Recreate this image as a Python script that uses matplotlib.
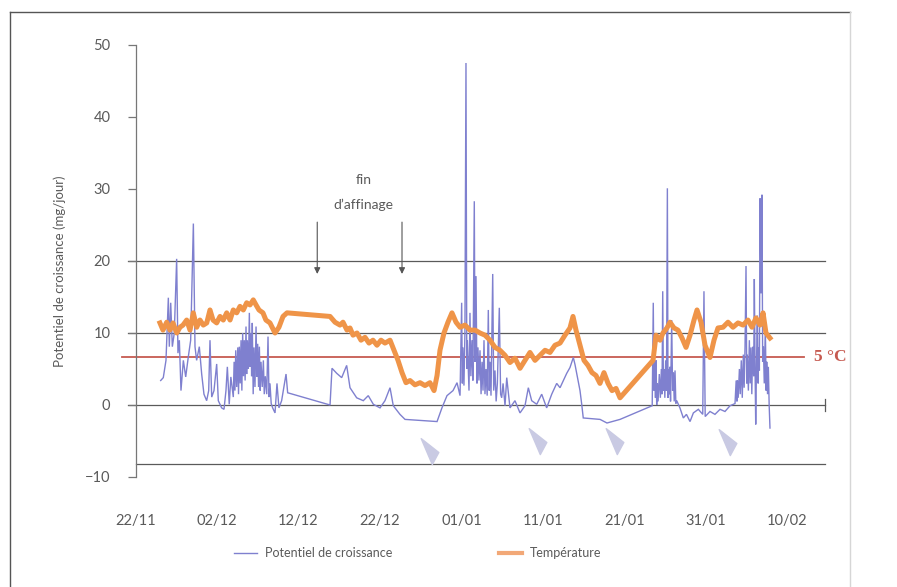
import matplotlib
matplotlib.use("Agg")
import matplotlib.pyplot as plt
from matplotlib.lines import Line2D
from matplotlib.path import Path

# Days counted from 22/11
tick_days = [0, 10, 20, 30, 40, 50, 60, 70, 80]
tick_labels = ["22/11", "02/12", "12/12", "22/12", "01/01", "11/01", "21/01", "31/01", "10/02"]
y_ticks = [-10, 0, 10, 20, 30, 40, 50]
grid_levels = [20, 10, 0]
axis_level = -8.2
threshold_level = 6.6  # 5 °C on the growth-potential scale

# Growth potential (mg/jour)
pot_days = [
    # late November
    3.09, 3.41, 3.74, 4.03, 4.15, 4.32, 4.52, 4.76, 5.05, 5.21, 5.38, 5.58, 5.87, 6.16,
    6.48, 6.77, 7.1, 7.3, 7.5, 7.83, 8.12, 8.4,
    8.73, 8.98, 9.14, 9.35, 9.63, 9.96, 10.16, 10.57, 10.86, 11.1, 11.27, 11.5, 11.7, 12.0,
    # early December
    12.1, 12.2, 12.3, 12.42, 12.55, 12.64, 12.74, 12.85, 12.95, 13.05,
    13.15, 13.25, 13.35, 13.45, 13.56, 13.64, 13.72, 13.85, 13.97, 14.07,
    14.17, 14.25, 14.33, 14.44, 14.54, 14.66, 14.79, 14.9, 14.99, 15.1,
    15.2, 15.3, 15.4, 15.55, 15.69, 15.8, 15.93, 16.1, 16.26, 16.38,
    16.5, 16.65, 16.83,
    # mid to late December
    17.12, 17.36, 17.6, 17.93, 18.47, 18.67, 23.87, 24.11, 24.69, 25.3,
    25.91, 26.32, 27.14, 27.95, 28.56, 29.18, 30.0, 30.61, 31.23, 31.63,
    32.45, 33.07, 37.0, 37.6, 38.22, 38.96, 39.45, 39.82,
    # New Year
    40.02, 40.1, 40.18, 40.3, 40.42, 40.55, 40.65, 40.72, 40.8, 40.92,
    41.04, 41.15, 41.29, 41.4, 41.57, 41.66, 41.78, 41.9, 42.02, 42.14,
    42.27, 42.4, 42.52, 42.64, 42.76, 42.88, 43.01, 43.15, 43.29, 43.4,
    43.5, 43.62, 43.83, 43.95, 44.11, 44.25, 44.4, 44.64, 44.8, 44.93,
    45.1, 45.34,
    # January
    45.55, 45.95, 46.56, 47.18, 47.79, 48.2, 48.61, 49.23, 49.84, 50.45,
    51.07, 51.68, 52.09, 52.5, 52.91, 53.31, 53.72, 53.93, 54.13, 54.54,
    54.75, 54.94, 57.0, 57.85, 59.45, 63.4,
    63.53, 63.62, 63.7, 63.8, 63.87, 63.95, 64.03, 64.12, 64.27, 64.4,
    64.52, 64.6, 64.69, 64.78, 64.85, 64.95, 65.05, 65.15, 65.26, 65.34,
    65.42, 65.5, 65.56, 65.65, 65.79, 65.9, 66.0, 66.1, 66.2, 66.3,
    66.41,
    66.8, 67.22, 67.6, 68.04, 68.45, 69.06, 69.6, 69.75, 69.9, 70.49,
    71.1, 71.72, 72.33, 72.95, 73.56,
    # end of January
    73.7, 73.8, 73.85, 73.95, 74.1, 74.2, 74.33, 74.45, 74.58, 74.68,
    74.79, 74.91, 75.0, 75.07, 75.2, 75.32, 75.42, 75.52, 75.62, 75.73,
    75.85, 75.93, 76.02, 76.1, 76.2, 76.3, 76.4, 76.46, 76.55, 76.63,
    76.75, 76.87, 76.95, 77.04, 77.15, 77.28, 77.38, 77.45, 77.55, 77.65,
    77.75, 77.85,
]
pot_values = [
    3.4, 3.8, 6.2, 14.9, 8.1, 14.2, 8.1, 10.0, 20.3, 7.2, 9.0, 2.0, 6.2, 3.9,
    6.7, 9.0, 25.2, 8.1, 6.2, 8.1, 4.3, 1.5,
    0.6, 2.0, 9.0, 1.1, 2.0, 5.7, 0.6, -0.4, -0.6, 2.0, 5.3, 0.1, 3.9, 1.1,
    6.0, 2.0, 7.6, 2.5, 8.0, 1.5, 8.1, 3.0, 9.0, 2.0,
    10.0, 4.0, 9.0, 3.4, 10.9, 4.3, 9.0, 5.0, 12.8, 5.3,
    10.0, 4.0, 11.4, 1.5, 8.0, 2.5, 10.9, 3.9, 8.5, 2.5,
    8.1, 2.0, 6.0, 2.5, 6.2, 1.5, 4.0, 1.5, 9.5, 1.1,
    3.0, 0.2, -0.4,
    -1.1, 3.0, -0.4, 0.6, 4.3, 1.7, 0.0, 5.1, 4.4, 3.8,
    5.5, 2.4, 1.0, 0.6, 1.3, 0.1, -0.4, 0.6, 2.4, -0.1,
    -1.3, -2.0, -2.3, -0.4, 1.3, 2.0, 3.1, 1.3,
    14.2, 3.0, 8.0, 2.7, 10.0, 47.5, 5.0, 9.0, 6.2, 2.0,
    12.8, 4.0, 9.0, 3.4, 28.3, 6.0, 17.9, 3.0, 8.0, 3.4,
    7.6, 1.5, 6.0, 2.0, 9.0, 1.5, 5.0, 1.3, 13.2, 2.0,
    6.0, 1.3, 18.2, 2.0, 4.8, 0.5, 3.0, 13.5, 1.5, 1.0,
    3.0, -0.1,
    3.8, -0.4, 0.6, -1.1, -0.1, 2.4, 0.6, 0.1, 1.5, -0.4,
    1.5, 3.0, 2.4, 3.4, 4.4, 5.2, 6.6, 5.6, 4.4, 2.0,
    0.1, -1.8, -2.0, -2.5, -2.0, -0.1,
    14.2, 2.0, 6.0, 1.0, 6.2, 0.0, 3.0, 0.5, 4.3, 1.0,
    5.0, 1.5, 15.8, 2.0, 5.0, 1.0, 6.2, 2.0, 30.1, 1.0,
    5.0, 1.5, 5.3, 0.5, 11.8, 2.0, 4.5, 0.5, 4.8, 0.2,
    0.6,
    -0.4, -1.8, -1.3, -2.3, -1.1, -0.6, -1.3, 15.8, -1.6, -0.9,
    -1.3, -0.6, -0.9, -0.1, 0.2,
    3.4, 0.5, 3.4, 1.0, 5.0, 1.5, 6.2, 1.0, 7.0, 2.4,
    8.1, 19.3, 3.0, 7.0, 2.0, 9.0, 3.0, 8.0, 1.5, 8.1,
    4.0, 17.5, 5.0, -2.7, 6.0, 12.4, 3.0, 8.0, 4.8, 28.7,
    15.5, 29.2, 6.0, 8.1, 3.0, 10.9, 2.0, 6.0, 1.5, 5.3,
    0.0, -3.2,
]
assert len(pot_days) == len(pot_values)

# Temperature, drawn on the same scale
temp_days = [3.0, 3.37, 3.83, 4.23, 4.6, 5.06, 5.46, 5.83, 6.28, 6.69, 7.09, 7.51, 7.91, 8.32,
             8.74, 9.14, 9.51, 9.96, 10.37, 10.77, 11.19, 11.6, 12.0, 12.42, 12.82, 13.23,
             13.64, 14.05, 14.45, 14.79, 15.15, 15.64, 16.0, 16.5, 17.12, 17.6, 18.1, 18.59,
             23.87, 24.48, 25.09, 25.46, 25.95, 26.32, 26.69, 27.18, 27.67, 28.16, 28.65,
             29.14, 29.63, 30.12, 30.61, 31.23, 31.72, 32.21, 32.7, 33.19, 33.68, 34.29,
             34.91, 35.52, 36.13, 36.63, 37.0, 37.36, 37.85, 38.34, 38.83, 39.33, 39.82,
             40.43, 41.04, 41.66, 42.27, 42.88, 43.5, 44.11, 44.72, 45.34, 45.95, 46.56,
             47.18, 47.79, 48.4, 49.02, 49.63, 50.25, 50.86, 51.47, 52.09, 52.7, 53.31,
             53.68, 54.05, 54.54, 55.03, 55.52, 56.01, 56.5, 56.99, 57.48, 57.98, 58.47,
             58.96, 59.45, 63.5, 63.87, 64.36, 64.72, 65.21, 65.58, 66.07, 66.56, 67.06,
             67.55, 68.04, 68.53, 68.9, 69.39, 69.88, 70.49, 70.98, 71.47, 72.09, 72.7,
             73.31, 73.93, 74.54, 75.15, 75.64, 76.13, 76.63, 77.0, 77.36, 77.85]
temp_values = [11.4, 10.4, 11.5, 10.4, 11.4, 10.0, 10.8, 11.1, 11.8, 10.4, 12.8, 10.8, 11.8, 11.1,
               11.4, 13.2, 11.8, 11.4, 12.3, 11.8, 12.8, 11.8, 13.2, 12.8, 13.7, 13.2,
               14.2, 13.9, 14.6, 13.9, 13.2, 12.8, 11.8, 11.4, 10.0, 10.8, 12.3, 12.8,
               12.3, 11.5, 11.1, 11.5, 10.4, 10.7, 9.7, 10.0, 9.0, 9.4, 8.6,
               9.0, 8.3, 9.0, 8.6, 9.0, 7.6, 6.2, 4.5, 3.1, 3.4, 2.8,
               3.1, 2.7, 3.1, 2.0, 4.1, 7.6, 10.0, 11.5, 12.8, 11.5, 10.8,
               11.1, 10.4, 10.4, 10.0, 9.7, 9.0, 8.0, 7.6, 6.9, 5.9, 6.5,
               5.1, 6.2, 7.3, 6.2, 6.9, 7.6, 7.3, 8.3, 8.6, 9.7, 10.7,
               12.3, 10.4, 8.3, 6.2, 5.5, 4.5, 4.1, 3.0, 4.5, 3.0, 2.0,
               2.3, 1.0, 6.2, 9.7, 9.0, 10.0, 10.7, 11.5, 10.7, 10.4, 9.3,
               8.0, 9.7, 11.8, 13.2, 11.5, 8.3, 6.6, 9.0, 10.7, 10.8, 11.5,
               10.8, 11.4, 11.1, 11.8, 10.8, 12.1, 11.1, 12.8, 10.0, 9.3]
assert len(temp_days) == len(temp_values)

# Minima flagged under the curve
flag_days = [36.1, 49.4, 58.8, 72.7]
flag_values = [-6.5, -5.1, -5.1, -5.3]

# "fin d'affinage" arrows
arrow_days = [22.3, 32.7]
arrow_top, arrow_tip = 25.4, 18.2

BLUE = "#7F80CF"
ORANGE = "#EF9448"
RED = "#C65A50"
GRID = "#5a5a5a"
TXT = "#5a5a5a"
FONT = ["Lato", "DejaVu Sans"]

plt.rcParams["font.family"] = FONT

W, H = 897, 587
fig = plt.figure(figsize=(W / 100, H / 100), dpi=100)
ax = fig.add_axes([135.5 / W, (H - 477) / H, 85 * 8.15 / W, (477 - 45) / H])
ax.set_xlim(0, 85)
ax.set_ylim(-10, 50)
for s in ["top", "right", "bottom"]:
    ax.spines[s].set_visible(False)
ax.spines["left"].set_color("#777777")
ax.spines["left"].set_linewidth(0.9)

# horizontal reference lines
grid_start, grid_end = -0.95, 84.6
for g in grid_levels:
    ax.plot([grid_start, grid_end], [g, g], color=GRID, lw=0.9, clip_on=False, zorder=1)
ax.plot([0, grid_end], [axis_level, axis_level], color=GRID, lw=0.9, clip_on=False, zorder=1)
ax.plot([grid_end, grid_end], [-0.9, 0.9], color=GRID, lw=0.9, clip_on=False, zorder=1)

# 5 °C threshold
ax.plot([-1.65, 82.0], [threshold_level, threshold_level], color=RED, lw=1.3,
        clip_on=False, zorder=2)
ax.text(83.2, threshold_level, "5 °C", color=RED, fontsize=12.5, fontweight="bold",
        family=["Liberation Serif", "DejaVu Serif"], va="center", ha="left", clip_on=False,
        zorder=5)

ax.plot(pot_days, pot_values, color=BLUE, lw=1.0, zorder=3, solid_joinstyle="miter")
ax.plot(temp_days, temp_values, color=ORANGE, lw=3.6, zorder=4, solid_joinstyle="round")

# flags
flag_shape = Path([(-0.67, 1.0), (0.6, 0.0), (0.13, -0.87), (-0.67, 1.0)],
                  [Path.MOVETO, Path.LINETO, Path.LINETO, Path.CLOSEPOLY])
ax.plot(flag_days, flag_values, linestyle="none", marker=flag_shape, markersize=20,
        markerfacecolor="#C9CAE3", markeredgecolor="#C9CAE3", zorder=2)

# arrows + annotation
for d in arrow_days:
    ax.annotate("", xy=(d, arrow_tip), xytext=(d, arrow_top),
                arrowprops=dict(arrowstyle="-|>", color="#555555", lw=0.8,
                                mutation_scale=9, shrinkA=0, shrinkB=0))
ax.text(28.0, 31.2, "fin", ha="center", va="center", fontsize=10, color=TXT)
ax.text(28.0, 27.8, "d\u2019affinage", ha="center", va="center", fontsize=10, color=TXT)

ax.set_xticks(tick_days)
ax.set_xticklabels(tick_labels)
ax.set_yticks(y_ticks)
ax.tick_params(axis="x", length=0, pad=27, labelsize=10.5, labelcolor=TXT)
ax.tick_params(axis="y", direction="out", length=6, width=0.9, color="#777777",
               pad=12, labelsize=10.5, labelcolor=TXT)

fig.text(60 / W, 1 - 271 / H, "Potentiel de croissance (mg/jour)", rotation=90,
         ha="center", va="center", fontsize=9.5, color=TXT)

handles = [Line2D([], [], color=BLUE, lw=1.0), Line2D([], [], color="#F2A877", lw=3.0)]
fig.legend(handles, ["Potentiel de croissance", "Température"], loc="center",
           bbox_to_anchor=(418 / W, 1 - 553 / H), ncol=2, frameon=False, fontsize=9,
           labelcolor=TXT, handlelength=1.8, handletextpad=0.7, columnspacing=8.5)

# page frame
fig.add_artist(Line2D([10 / W, 850 / W], [1 - 12 / H, 1 - 12 / H], color="#555555", lw=1.0))
fig.add_artist(Line2D([10 / W, 10 / W], [0, 1 - 12 / H], color="#555555", lw=1.0))
fig.add_artist(Line2D([850 / W, 850 / W], [0, 1 - 12 / H], color="#d6d6d6", lw=1.0))

fig.savefig("out.png", dpi=100, facecolor="white")
